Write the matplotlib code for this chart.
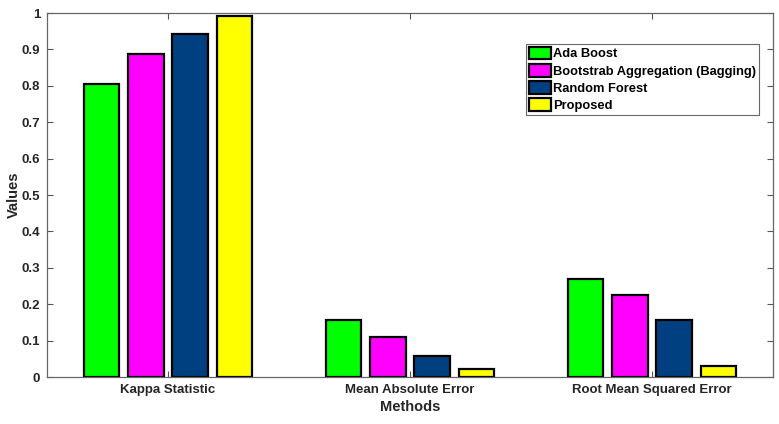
import matplotlib
matplotlib.use("Agg")
import matplotlib.pyplot as plt
import numpy as np

categories = ["Kappa Statistic", "Mean Absolute Error", "Root Mean Squared Error"]
series_names = ["Ada Boost", "Bootstrab Aggregation (Bagging)", "Random Forest", "Proposed"]
ada = [0.805, 0.157, 0.270]
bagging = [0.888, 0.110, 0.226]
rf = [0.941, 0.059, 0.156]
proposed = [0.992, 0.021, 0.031]
colors = ["#00FF00", "#FF00FF", "#004080", "#FFFF00"]
yticks = [0, 0.1, 0.2, 0.3, 0.4, 0.5, 0.6, 0.7, 0.8, 0.9, 1]
ytick_labels = ["0", "0.1", "0.2", "0.3", "0.4", "0.5", "0.6", "0.7", "0.8", "0.9", "1"]

plt.rcParams['font.family'] = ['Liberation Sans', 'DejaVu Sans']
plt.rcParams['font.weight'] = 'bold'

fig = plt.figure(figsize=(7.79, 4.24), dpi=100)
ax = fig.add_axes([47/779, 1 - 377/424, (773-47)/779, (377-13)/424])

x = np.arange(1, len(categories) + 1)
width = 0.145
offsets = [-0.273, -0.091, 0.091, 0.273]
for vals, name, c, off in zip([ada, bagging, rf, proposed], series_names, colors, offsets):
    ax.bar(x + off, vals, width, color=c, edgecolor="black", linewidth=1.6, label=name)

ax.set_xlim(0.5, 3.5)
ax.set_ylim(0, 1)
ax.set_xticks(x)
ax.set_xticklabels(categories, fontsize=9.5, fontweight='bold', color='#262626')
ax.set_yticks(yticks)
ax.set_yticklabels(ytick_labels, fontsize=9.5, fontweight='bold', color='#262626')
ax.tick_params(direction='in', length=4, width=0.8, color='#555555',
               top=True, right=True, pad=5)
for s in ax.spines.values():
    s.set_color('#666666')
    s.set_linewidth(0.9)

ax.set_xlabel("Methods", fontsize=10.5, fontweight='bold', color='#262626', labelpad=3)
ax.set_ylabel("Values", fontsize=10.5, fontweight='bold', color='#262626')
ax.yaxis.set_label_coords(-0.036, 0.5)

leg = ax.legend(loc='upper right', bbox_to_anchor=((759-47)/726, (377-44)/364),
                fontsize=9.3, frameon=True, fancybox=False, edgecolor='#444444',
                handlelength=1.7, handleheight=1.15, handletextpad=0.2,
                borderpad=0.2, labelspacing=0.27, borderaxespad=0)
leg.get_frame().set_linewidth(0.8)
for t in leg.get_texts():
    t.set_fontweight('bold')

fig.savefig("out.png", dpi=100, facecolor='white')
